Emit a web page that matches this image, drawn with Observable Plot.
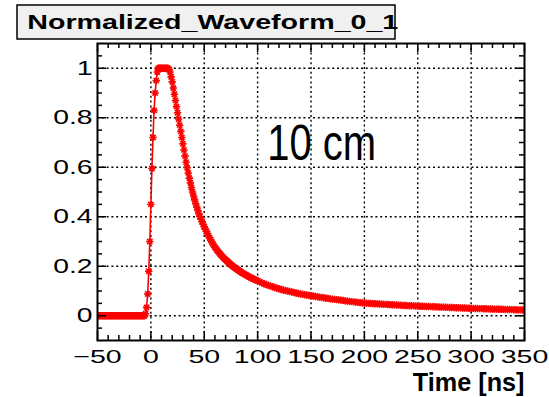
<!DOCTYPE html>
<html><head><meta charset="utf-8">
<script src="https://cdn.jsdelivr.net/npm/d3@7"></script>
<script src="https://cdn.jsdelivr.net/npm/@observablehq/plot@0.6"></script>
<style>html,body{margin:0;padding:0;background:#fff;} #chart{width:549px;height:397px;}</style>
</head><body><div id="chart"></div>
<script>
const titleText = "Normalized_Waveform_0_1";
const xTitle = "Time [ns]";
const annotation = "10 cm";
const annotationAt = [{t: 109, v: 0.628}];

// waveform samples: 1 ns steps from -50 to 100 ns, then 2 ns steps from 102 to 350 ns
const fineStart = -50, fineStep = 1;
const coarseStart = 102, coarseStep = 2;
const ampFine = [
  0,0,0,0,0,0,0,0,0,0, 0,0,0,0,0,0,0,0,0,0, 0,0,0,0,0,0,0,0,0,0, 0,0,0,0,0,0,0,0,0,0, 0,0,0,0,0,
  0.008,0.034,0.088,0.18,0.30,0.45,0.595,0.72,0.83,0.90,0.95,0.985,
  1,1,1,1,1,1,1,1,1,1,
  0.995,0.985,0.965,0.945,0.92,0.895,0.87,0.845,0.82,0.795,0.77,0.745,0.72,0.695,0.67,0.645,0.62,0.598,0.577,0.556,0.537,0.518,0.50,0.484,0.468,0.453,0.439,0.425,0.412,
  0.400,0.390,0.380,0.370,0.360,0.350,0.341,0.332,0.323,0.314,
  0.306,0.298,0.291,0.284,0.277,0.271,0.265,0.259,0.254,0.249,
  0.244,0.239,0.234,0.230,0.226,0.222,0.218,0.214,0.210,0.206,
  0.203,0.199,0.196,0.193,0.190,0.187,0.184,0.181,0.178,0.175,
  0.172,0.170,0.167,0.165,0.162,0.160,0.157,0.155,0.153,0.151,
  0.149,0.147,0.145,0.143,0.141
];
const ampCoarse = [
  0.137,0.133,0.129,0.126,0.123,0.120,0.117,0.114,0.111,0.109,0.106,0.104,0.102,0.100,0.098,0.096,0.094,0.092,0.090,0.088,0.087,0.085,0.084,0.082,0.081,
  0.080,0.078,0.077,0.075,0.074,0.073,0.071,0.070,0.068,0.067,0.066,0.065,0.064,0.063,0.062,0.060,0.059,0.058,0.057,0.056,0.055,0.054,0.053,0.052,0.051,
  0.0505,0.050,0.0495,0.049,0.0485,0.048,0.0475,0.047,0.0465,0.046,0.0455,0.045,0.0445,0.044,0.0435,0.043,0.0425,0.042,0.0415,0.041,0.0406,0.0402,0.0398,0.0394,0.039,
  0.0386,0.0383,0.0379,0.0376,0.0372,0.0368,0.0365,0.0361,0.0358,0.0354,0.035,0.0347,0.0343,0.034,0.0336,0.0332,0.0329,0.0325,0.0322,0.0318,0.0314,0.0311,0.0307,0.0304,0.030,
  0.0297,0.0294,0.0292,0.0289,0.0286,0.0283,0.028,0.0278,0.0275,0.0272,0.0269,0.0266,0.0264,0.0261,0.0258,0.0255,0.0252,0.025,0.0247,0.0244,0.0241,0.0238,0.0236,0.0233,0.023
];

const xMajor = [-50, 0, 50, 100, 150, 200, 250, 300, 350];
const xMajorLabels = ["\u221250", "0", "50", "100", "150", "200", "250", "300", "350"];
const xMinor = [-40,-30,-20,-10,10,20,30,40,60,70,80,90,110,120,130,140,160,170,180,190,210,220,230,240,260,270,280,290,310,320,330,340];
const yMajor = [0, 0.2, 0.4, 0.6, 0.8, 1];
const yMajorLabels = ["0", "0.2", "0.4", "0.6", "0.8", "1"];
const yMinor = [-0.05,0.05,0.1,0.15,0.25,0.3,0.35,0.45,0.5,0.55,0.65,0.7,0.75,0.85,0.9,0.95,1.05];
const xGrid = [0, 50, 100, 150, 200, 250, 300];
const yGrid = [0, 0.2, 0.4, 0.6, 0.8, 1];

const rows = [
  ...ampFine.map((v, i) => ({t: fineStart + i * fineStep, v})),
  ...ampCoarse.map((v, i) => ({t: coarseStart + i * coarseStep, v}))
];

const W = 549, H = 397, mL = 97, mR = 25, mT = 43, mB = 57;
const fw = W - mL - mR, fh = H - mT - mB;
const majorLen = 9, minorLen = 5;

const star = {draw(ctx, size) {
  const r = Math.sqrt(size / Math.PI), d = r * Math.SQRT1_2;
  ctx.moveTo(-r, 0); ctx.lineTo(r, 0);
  ctx.moveTo(0, -r); ctx.lineTo(0, r);
  ctx.moveTo(-d, -d); ctx.lineTo(d, d);
  ctx.moveTo(-d, d); ctx.lineTo(d, -d);
}};

const dots = "2,2.8";
const font = "'Liberation Sans', Arial, Helvetica, sans-serif";

const svg = Plot.plot({
  width: W, height: H,
  marginLeft: mL, marginRight: mR, marginTop: mT, marginBottom: mB,
  style: {fontFamily: font, background: "white", color: "black"},
  x: {domain: [-50, 350], axis: null},
  y: {domain: [-0.1, 1.1], axis: null},
  marks: [
    Plot.ruleX(xGrid, {x: d => d, stroke: "black", strokeWidth: 1.4, strokeDasharray: dots}),
    Plot.ruleY(yGrid, {y: d => d, stroke: "black", strokeWidth: 1.4, strokeDasharray: dots}),
    Plot.line(rows, {x: "t", y: "v", stroke: "red", strokeWidth: 1.6, clip: true}),
    Plot.dot(rows, {x: "t", y: "v", symbol: star, r: 3.7, stroke: "red", fill: "none", strokeWidth: 1.6, clip: true}),
    Plot.frame({stroke: "black", strokeWidth: 2}),
    Plot.tickX(xMajor, {x: d => d, stroke: "black", strokeWidth: 1.5, insetTop: fh - majorLen}),
    Plot.tickX(xMinor, {x: d => d, stroke: "black", strokeWidth: 1.5, insetTop: fh - minorLen}),
    Plot.tickX(xMajor, {x: d => d, stroke: "black", strokeWidth: 1.5, insetBottom: fh - majorLen}),
    Plot.tickX(xMinor, {x: d => d, stroke: "black", strokeWidth: 1.5, insetBottom: fh - minorLen}),
    Plot.tickY(yMajor, {y: d => d, stroke: "black", strokeWidth: 1.5, insetRight: fw - majorLen}),
    Plot.tickY(yMinor, {y: d => d, stroke: "black", strokeWidth: 1.5, insetRight: fw - minorLen}),
    Plot.tickY(yMajor, {y: d => d, stroke: "black", strokeWidth: 1.5, insetLeft: fw - majorLen}),
    Plot.tickY(yMinor, {y: d => d, stroke: "black", strokeWidth: 1.5, insetLeft: fw - minorLen}),
    Plot.text(xMajor, {x: d => d, text: (d, i) => xMajorLabels[i], frameAnchor: "bottom", dy: 16, lineAnchor: "middle", textAnchor: "middle", fontSize: 19, fill: "black"}),
    Plot.text(yMajor, {y: d => d, text: (d, i) => yMajorLabels[i], frameAnchor: "left", dx: -5, lineAnchor: "middle", textAnchor: "end", fontSize: 20.5, fill: "black"}),
    Plot.text([xTitle], {text: d => d, frameAnchor: "bottom-right", dx: 0, dy: 50, lineAnchor: "bottom", textAnchor: "end", fontSize: 26, fontWeight: "bold", fill: "black"}),
    Plot.text(annotationAt, {x: "t", y: "v", text: () => annotation, lineAnchor: "bottom", textAnchor: "start", fontSize: 50, fill: "black"})
  ]
});

// horizontal stretch of text glyphs about their anchor point
const xSet = new Set(xMajorLabels), ySet = new Set(yMajorLabels);
d3.select(svg).selectAll("text").each(function() {
  const s = this.textContent;
  let sx = null;
  if (s === annotation) sx = 0.8;
  else if (s === xTitle) sx = 0.97;
  else if (ySet.has(s) && this.closest("g") && this.closest("g").getAttribute("text-anchor") === "end") sx = 1.38;
  else if (xSet.has(s)) sx = 1.5;
  if (sx == null) return;
  const t = this.getAttribute("transform");
  if (t) this.setAttribute("transform", t + ` scale(${sx},1)`);
  else {
    const x = +this.getAttribute("x") || 0;
    this.setAttribute("transform", `translate(${x},0) scale(${sx},1) translate(${-x},0)`);
  }
});

const g = d3.select(svg).append("g").attr("aria-label", "title");
g.append("rect").attr("x", 17).attr("y", 5).attr("width", 378).attr("height", 34)
  .attr("fill", "#f0f0f0").attr("stroke", "black").attr("stroke-width", 1.5);
g.append("text").attr("x", 27.3).attr("y", 28.5).attr("text-anchor", "start")
  .attr("font-family", font).attr("font-weight", "bold").attr("font-size", 21)
  .attr("textLength", 371).attr("lengthAdjust", "spacingAndGlyphs")
  .attr("fill", "black").text(titleText);

document.getElementById("chart").appendChild(svg);
</script>
</body></html>
